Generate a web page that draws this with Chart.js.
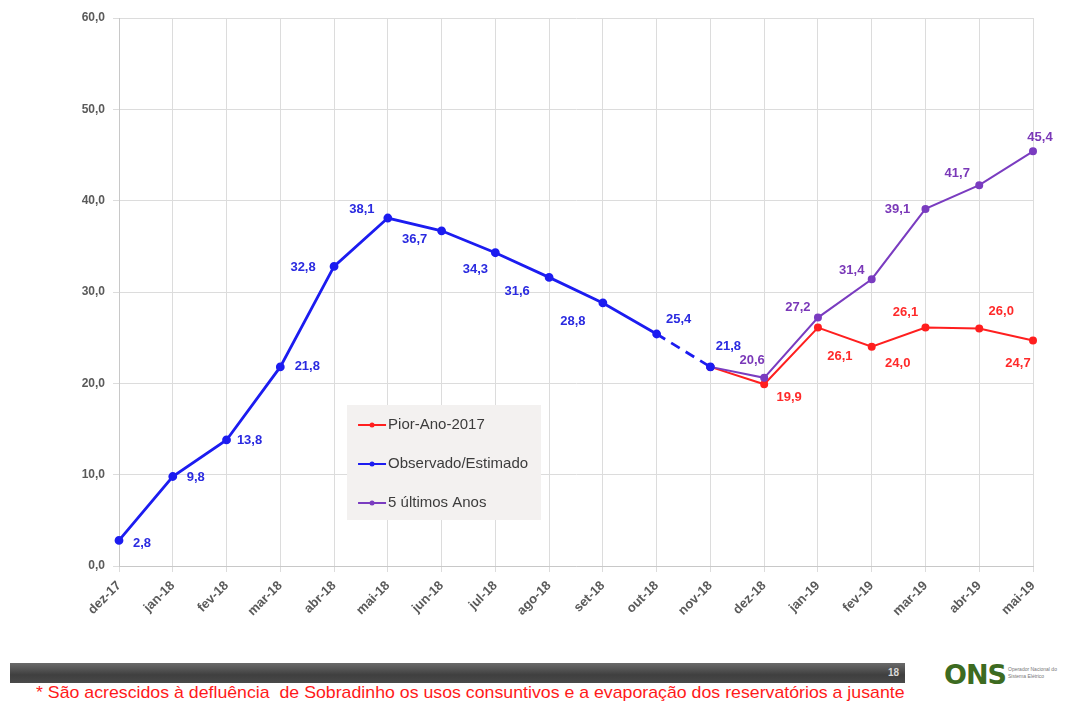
<!DOCTYPE html>
<html lang="pt-BR">
<head>
<meta charset="utf-8">
<title>Defluência de Sobradinho</title>
<script src="https://cdn.jsdelivr.net/npm/chart.js@4.4.1/dist/chart.umd.min.js"></script>
<style>
  html, body { margin: 0; padding: 0; background: #ffffff; }
  body { width: 1073px; height: 704px; position: relative; overflow: hidden; font-family: "Liberation Sans", Arial, sans-serif; }
  #chart { position: absolute; left: 0; top: 0; }
  #bar { position: absolute; left: 10px; top: 663px; width: 895px; height: 20px; background: linear-gradient(#6a6a6a, #3f3f3f 60%, #4a4a4a); }
  #bar span { position: absolute; right: 6px; top: 4px; font-size: 10px; font-weight: bold; color: #d8d8d8; }
  #logo { position: absolute; left: 944px; top: 659px; height: 30px; }
  #logo b { font-family: "DejaVu Sans", sans-serif; font-size: 27px; font-weight: bold; color: #3d6b21; letter-spacing: -1px; }
  #logo i { position: absolute; left: 64px; top: 7px; width: 60px; font-style: normal; font-size: 5px; line-height: 7px; color: #777; }
  #note { position: absolute; left: 36px; top: 683px; font-family: "Liberation Sans", sans-serif; font-size: 17px; color: #ff1a1a; white-space: nowrap; transform-origin: 0 0; }
</style>
</head>
<body>
<canvas id="chart" width="1073" height="650"></canvas>
<div id="bar"><span>18</span></div>
<div id="logo"><b>ONS</b><i>Operador Nacional do Sistema Elétrico</i></div>
<div id="note">* São acrescidos à defluência &nbsp;de Sobradinho os usos consuntivos e a evaporação dos reservatórios a jusante</div>

<script>
// Months on the horizontal axis
const months = ['dez-17', 'jan-18', 'fev-18', 'mar-18', 'abr-18', 'mai-18', 'jun-18', 'jul-18',
                'ago-18', 'set-18', 'out-18', 'nov-18', 'dez-18', 'jan-19', 'fev-19', 'mar-19',
                'abr-19', 'mai-19'];

// Observed / estimated series (dashed between out-18 and nov-18)
const observado = [2.8, 9.8, 13.8, 21.8, 32.8, 38.1, 36.7, 34.3, 31.6, 28.8, 25.4, 21.8,
                   null, null, null, null, null, null];

// Worst year (2017) scenario
const piorAno = [null, null, null, null, null, null, null, null, null, null, null, 21.8,
                 19.9, 26.1, 24.0, 26.1, 26.0, 24.7];

// Average of the last five years scenario
const cincoAnos = [null, null, null, null, null, null, null, null, null, null, null, 21.8,
                   20.6, 27.2, 31.4, 39.1, 41.7, 45.4];

// Vertical axis ticks
const yTicks = [0, 10, 20, 30, 40, 50, 60];

// Where each value label sits relative to its point (dx, dy in px); null = no label
const observadoLabelPos = [[23, 3], [23, 1], [23, 0], [27, 0], [-31, 1], [-26, -9], [-27, 9], [-20, 17],
                           [-32, 14], [-30, 18], [22, -15], [18, -20], null, null, null, null, null, null];
const piorLabelPos = [null, null, null, null, null, null, null, null, null, null, null, null,
                      [25, 13], [22, 29], [26, 17], [-20, -15], [22, -17], [-15, 23]];
const cincoLabelPos = [null, null, null, null, null, null, null, null, null, null, null, null,
                       [-12, -17], [-20, -10], [-20, -9], [-28, 1], [-22, -12], [7, -14]];

const BLUE = '#1c1cf0';
const RED = '#ff1f1f';
const PURPLE = '#7a3cc0';

const fmt = v => v.toFixed(1).replace('.', ',');

// Draws the value next to each point
const valueLabels = {
  id: 'valueLabels',
  afterDatasetsDraw(chart) {
    const ctx = chart.ctx;
    ctx.save();
    ctx.font = 'bold 13px "Liberation Sans", Arial, sans-serif';
    ctx.textAlign = 'center';
    ctx.textBaseline = 'middle';
    chart.data.datasets.forEach((ds, i) => {
      const meta = chart.getDatasetMeta(i);
      ctx.fillStyle = ds.labelColor;
      meta.data.forEach((pt, j) => {
        const off = ds.labelPos[j];
        const v = ds.data[j];
        if (!off || v === null) return;
        ctx.fillText(fmt(v), pt.x + off[0], pt.y + off[1]);
      });
    });
    ctx.restore();
  }
};

// Legend box drawn inside the plot area
const insideLegend = {
  id: 'insideLegend',
  afterDraw(chart) {
    const ctx = chart.ctx;
    const a = chart.chartArea;
    const x0 = a.left + (a.right - a.left) * 0.2495;
    const y0 = a.top + (a.bottom - a.top) * 0.7062;
    const w = 194, h = 115;
    ctx.save();
    ctx.fillStyle = '#f3f1f0';
    ctx.fillRect(x0, y0, w, h);
    ctx.font = '15px "Liberation Sans", Arial, sans-serif';
    ctx.textBaseline = 'middle';
    ctx.textAlign = 'left';
    const items = [chart.data.datasets[0], chart.data.datasets[1], chart.data.datasets[2]];
    items.forEach((ds, k) => {
      const y = y0 + 20 + k * 39;
      ctx.strokeStyle = ds.borderColor;
      ctx.lineWidth = 2;
      ctx.beginPath();
      ctx.moveTo(x0 + 11, y);
      ctx.lineTo(x0 + 39, y);
      ctx.stroke();
      ctx.fillStyle = ds.borderColor;
      ctx.beginPath();
      ctx.arc(x0 + 25, y, 2.5, 0, Math.PI * 2);
      ctx.fill();
      ctx.fillStyle = '#3c3c3c';
      ctx.fillText(ds.label, x0 + 41, y);
    });
    ctx.restore();
  }
};

new Chart(document.getElementById('chart'), {
  type: 'line',
  data: {
    labels: months,
    datasets: [
      {
        label: 'Pior-Ano-2017',
        data: piorAno,
        borderColor: RED,
        backgroundColor: RED,
        labelColor: '#ff2a2a',
        labelPos: piorLabelPos,
        borderWidth: 2,
        pointRadius: 3,
        order: 3
      },
      {
        label: 'Observado/Estimado',
        data: observado,
        borderColor: BLUE,
        backgroundColor: BLUE,
        labelColor: '#2a2ae0',
        labelPos: observadoLabelPos,
        borderWidth: 2.8,
        pointRadius: 3,
        order: 1,
        segment: {
          borderDash: c => (c.p0DataIndex === 10 ? [10, 7] : undefined)
        }
      },
      {
        label: '5 últimos Anos',
        data: cincoAnos,
        borderColor: PURPLE,
        backgroundColor: PURPLE,
        labelColor: '#7a38b8',
        labelPos: cincoLabelPos,
        borderWidth: 2,
        pointRadius: 3,
        order: 2
      }
    ]
  },
  options: {
    responsive: false,
    animation: false,
    devicePixelRatio: 1,
    layout: { padding: { top: 18, right: 40, bottom: 0, left: 0 } },
    plugins: {
      legend: { display: false },
      tooltip: { enabled: false }
    },
    scales: {
      x: {
        offset: false,
        grid: { color: '#dcdcdc', lineWidth: 1, tickLength: 6, drawTicks: true },
        border: { color: '#c8c8c8' },
        ticks: {
          color: '#5a5a5a',
          font: { family: '"Liberation Sans", Arial, sans-serif', size: 13, weight: 'bold' },
          minRotation: 45,
          maxRotation: 45,
          autoSkip: false,
          padding: 6
        },
        afterFit(s) { s.height = 84; }
      },
      y: {
        min: 0,
        max: 60,
        afterBuildTicks(s) { s.ticks = yTicks.map(v => ({ value: v })); },
        grid: { color: '#dcdcdc', lineWidth: 1, tickLength: 6 },
        border: { color: '#c8c8c8' },
        ticks: {
          color: '#5a5a5a',
          font: { family: '"Liberation Sans", Arial, sans-serif', size: 12, weight: 'bold' },
          padding: 8,
          callback: v => fmt(v)
        },
        afterFit(s) { s.width = 119; }
      }
    }
  },
  plugins: [valueLabels, insideLegend]
});

// Stretch the footnote to the width of the bar above it
const note = document.getElementById('note');
note.style.transform = 'scaleX(' + (869 / note.offsetWidth) + ')';
</script>
</body>
</html>
